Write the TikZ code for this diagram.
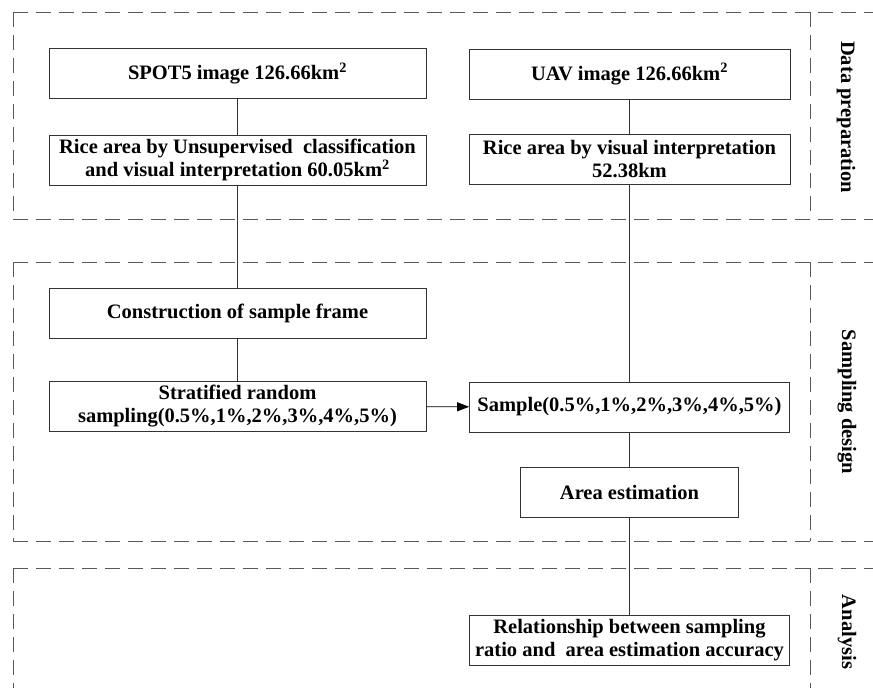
\documentclass[tikz,border=0pt]{standalone}
\usepackage{fontspec}
\setmainfont{Liberation Serif}
\usepackage{tikz}
\usetikzlibrary{positioning}
\usetikzlibrary{arrows.meta}
\tikzset{>={Stealth[length=12pt,width=9pt,inset=0pt]}}
\tikzset{
  box/.style={draw=black!80, line width=0.8pt, minimum height=50pt, inner sep=0pt, align=center,
    font=\fontsize{20.5}{23}\selectfont\bfseries},
  region/.style={draw=black!65, line width=0.9pt, dash pattern=on 15pt off 8pt},
  stage/.style={rotate=-90, font=\fontsize{20.5}{23}\selectfont\bfseries}
}

\begin{document}
\begin{tikzpicture}[x=1pt,y=-1pt]
            \useasboundingbox (0,0) rectangle (873,688);
            \draw[region] (13,12) -- (873,12) (13,12) -- (13,219) (13,219) -- (873,219) (810,12) -- (810,219);
            \draw[region] (13,262) -- (873,262) (13,262) -- (13,541) (13,541) -- (873,541) (810,262) -- (810,541);
            \draw[region] (13,568) -- (873,568) (13,568) -- (13,688) (810,568) -- (810,688);
            \node[stage] (lbl1) at (846,117) {Data preparation};
            \node[stage] (lbl2) at (847,402) {Sampling design};
            \node[stage] (lbl3) at (847,632) {Analysis};
            \node[box, minimum width=377pt] (spot) at (237.5,73.5) {SPOT5 image 126.66km\textsuperscript{2}};
            \node[box, minimum width=377pt] (riceL) at (237.5,160) {Rice area by Unsupervised\ \ classification\\and visual interpretation 60.05km\textsuperscript{2}};
            \node[box, minimum width=321pt] (uav) at (629.5,74) {UAV image 126.66km\textsuperscript{2}};
            \node[box, minimum width=321pt] (riceR) at (629.5,159.5) {Rice area by visual interpretation\\52.38km};
            \node[box, minimum width=377pt] (frame) at (237.5,313) {Construction of sample frame};
            \node[box, minimum width=377pt] (strat) at (237.5,406.5) {Stratified random\\sampling(0.5\%,1\%,2\%,3\%,4\%,5\%)};
            \node[box, minimum width=320pt] (sample) at (629.5,407) {Sample(0.5\%,1\%,2\%,3\%,4\%,5\%)};
            \node[box, minimum width=218pt] (area) at (629.5,492.5) {Area estimation};
            \node[box, minimum width=320pt] (relat) at (629.5,640.5) {Relationship between sampling\\ratio and\ \ area estimation accuracy};
            \path[draw=black!80, line width=0.8pt]
              (spot) edge (riceL)
              (riceL) edge (frame)
              (frame) edge (strat)
              (uav) edge (riceR)
              (riceR) edge (sample)
              (sample) edge (area)
              (area) edge (relat);
            \path[->, draw=black, line width=0.8pt]
              (strat) edge (sample);
        \end{tikzpicture}
\end{document}
